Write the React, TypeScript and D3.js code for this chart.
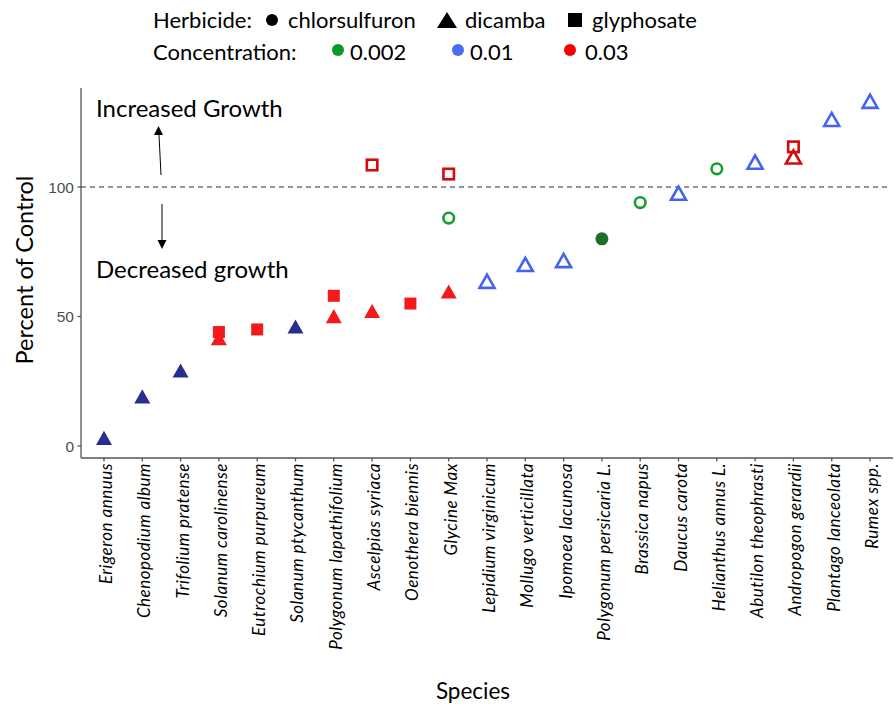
import React from "react";
import * as d3 from "d3";

const species = [
  "Erigeron annuus", "Chenopodium album", "Trifolium pratense", "Solanum carolinense",
  "Eutrochium purpureum", "Solanum ptycanthum", "Polygonum lapathifolium", "Ascelpias syriaca",
  "Oenothera biennis", "Glycine Max", "Lepidium virginicum", "Mollugo verticillata",
  "Ipomoea lacunosa", "Polygonum persicaria L.", "Brassica napus", "Daucus carota",
  "Helianthus annus L.", "Abutilon theophrasti", "Andropogon gerardii", "Plantago lanceolata",
  "Rumex spp.",
];

// per-point data
const ptSpecies = [
  "Erigeron annuus", "Chenopodium album", "Trifolium pratense",
  "Solanum carolinense", "Solanum carolinense", "Eutrochium purpureum", "Solanum ptycanthum",
  "Polygonum lapathifolium", "Polygonum lapathifolium", "Ascelpias syriaca", "Ascelpias syriaca",
  "Oenothera biennis", "Glycine Max", "Glycine Max", "Glycine Max",
  "Lepidium virginicum", "Mollugo verticillata", "Ipomoea lacunosa", "Polygonum persicaria L.",
  "Brassica napus", "Daucus carota", "Helianthus annus L.", "Abutilon theophrasti",
  "Andropogon gerardii", "Andropogon gerardii", "Plantago lanceolata", "Rumex spp.",
];
const ptHerbicide = [
  "dicamba", "dicamba", "dicamba",
  "glyphosate", "dicamba", "glyphosate", "dicamba",
  "glyphosate", "dicamba", "dicamba", "glyphosate",
  "glyphosate", "dicamba", "glyphosate", "chlorsulfuron",
  "dicamba", "dicamba", "dicamba", "chlorsulfuron",
  "chlorsulfuron", "dicamba", "chlorsulfuron", "dicamba",
  "glyphosate", "dicamba", "dicamba", "dicamba",
];
const ptConc = [
  "0.01", "0.01", "0.01",
  "0.03", "0.03", "0.03", "0.01",
  "0.03", "0.03", "0.03", "0.03",
  "0.03", "0.03", "0.03", "0.002",
  "0.01", "0.01", "0.01", "0.002",
  "0.002", "0.01", "0.002", "0.01",
  "0.03", "0.03", "0.01", "0.01",
];
const ptValue = [
  2.5, 18.5, 28.5,
  44, 41, 45, 45.5,
  58, 49.5, 51.5, 108.5,
  55, 59, 105, 88,
  63, 69.5, 71, 80,
  94, 97, 107, 109,
  115.5, 111, 125.5, 132.5,
];
const ptFilled = [
  true, true, true,
  true, true, true, true,
  true, true, true, false,
  true, true, false, false,
  false, false, false, true,
  false, false, false, false,
  false, false, false, false,
];

const yTicks = [0, 50, 100];

const filledColor: Record<string, string> = { "0.002": "#1d6b2d", "0.01": "#272f8e", "0.03": "#f21a1a" };
const openColor: Record<string, string> = { "0.002": "#13a02c", "0.01": "#4563ef", "0.03": "#d30b0b" };
const legendColor: Record<string, string> = { "0.002": "#079a26", "0.01": "#4a6cf2", "0.03": "#f50000" };

const FONT = "Lato, 'Open Sans', sans-serif";
const AXIS = "#555";

function Marker({ shape, x, y, color, filled }: { shape: string; x: number; y: number; color: string; filled: boolean }) {
  if (shape === "dicamba") {
    const s = filled ? 16 : 15;
    const h = s * 0.88;
    const p = `M${x},${y - h * 0.62} L${x + s / 2},${y + h * 0.38} L${x - s / 2},${y + h * 0.38} Z`;
    return filled ? <path d={p} fill={color} /> : <path d={p} fill="none" stroke={color} strokeWidth={2.6} strokeLinejoin="miter" />;
  }
  if (shape === "glyphosate") {
    const s = filled ? 12 : 10.5;
    return filled ? (
      <rect x={x - s / 2} y={y - s / 2} width={s} height={s} fill={color} />
    ) : (
      <rect x={x - s / 2} y={y - s / 2} width={s} height={s} fill="none" stroke={color} strokeWidth={2.6} />
    );
  }
  return filled ? (
    <circle cx={x} cy={y} r={6.5} fill={color} />
  ) : (
    <circle cx={x} cy={y} r={5.3} fill="none" stroke={color} strokeWidth={2.6} />
  );
}

export default function App() {
  const W = 895, H = 706;
  const left = 81, right = 893, top = 88, bottom = 458;
  const x = d3.scalePoint<string>().domain(species).range([left, right]).padding(0.6);
  const y = d3.scaleLinear().domain([0, 100]).range([446, 187]);

  return (
    <svg width={W} height={H} style={{ display: "block", position: "absolute", left: 0, top: 0 }} fontFamily={FONT}>
      <rect width={W} height={H} fill="#fff" />
      {/* Legend */}
      <g fontSize={22} fill="#000">
        <text x={153} y={28}>Herbicide:</text>
        <circle cx={272} cy={20} r={6} fill="#000" />
        <text x={288} y={28}>chlorsulfuron</text>
        <path d={`M447,12 L457,28 L437,28 Z`} fill="#000" />
        <text x={465} y={28}>dicamba</text>
        <rect x={568} y={13} width={14} height={14} fill="#000" />
        <text x={592} y={28}>glyphosate</text>
        <text x={153} y={60}>Concentration:</text>
        <circle cx={338} cy={50} r={6} fill={legendColor["0.002"]} />
        <text x={350} y={60}>0.002</text>
        <circle cx={458} cy={50} r={6} fill={legendColor["0.01"]} />
        <text x={470} y={60}>0.01</text>
        <circle cx={570} cy={50} r={6} fill={legendColor["0.03"]} />
        <text x={585} y={60}>0.03</text>
      </g>

      {/* Axes */}
      <line x1={left} x2={left} y1={top} y2={bottom} stroke={AXIS} strokeWidth={1.3} />
      <line x1={left} x2={right} y1={bottom} y2={bottom} stroke={AXIS} strokeWidth={1.3} />
      {yTicks.map((t) => (
        <g key={t}>
          <line x1={left - 3.5} x2={left} y1={y(t)} y2={y(t)} stroke={AXIS} strokeWidth={1.3} />
          <text x={left - 7} y={y(t)} dy="0.36em" textAnchor="end" fontSize={15.5} fill="#4d4d4d" fontFamily="'Liberation Sans', Arial, sans-serif">{t}</text>
        </g>
      ))}
      {species.map((s) => (
        <g key={s}>
          <line x1={x(s)} x2={x(s)} y1={bottom} y2={bottom + 3.5} stroke={AXIS} strokeWidth={1.3} />
          <text
            transform={`translate(${x(s)! + 8},${bottom + 5}) rotate(-90)`}
            textAnchor="end"
            fontSize={17}
            letterSpacing={0.5}
            fontStyle="italic"
            fill="#000"
          >{s}</text>
        </g>
      ))}

      {/* Reference line */}
      <line x1={left} x2={right - 3} y1={y(100)} y2={y(100)} stroke="#333" strokeWidth={1.2} strokeDasharray="5,4" />

      {/* Annotations */}
      <text x={96} y={117} fontSize={24} fill="#000">Increased Growth</text>
      <text x={96} y={278} fontSize={24} fill="#000">Decreased growth</text>
      <line x1={161} x2={159} y1={175} y2={135} stroke="#000" strokeWidth={1} />
      <path d="M158.5,126 L163,135 L154,135 Z" fill="#000" />
      <line x1={162} x2={162} y1={204} y2={240} stroke="#000" strokeWidth={1} />
      <path d="M162,249 L157.5,240 L166.5,240 Z" fill="#000" />

      {/* Points */}
      {ptSpecies.map((s, i) => (
        <Marker
          key={i}
          shape={ptHerbicide[i]}
          x={x(s)!}
          y={y(ptValue[i])}
          color={ptFilled[i] ? filledColor[ptConc[i]] : openColor[ptConc[i]]}
          filled={ptFilled[i]}
        />
      ))}

      {/* Axis titles */}
      <text transform={`translate(33,${270}) rotate(-90)`} textAnchor="middle" fontSize={23.5} fill="#000">Percent of Control</text>
      <text x={473} y={699} textAnchor="middle" fontSize={22.5} fill="#000">Species</text>
    </svg>
  );
}
